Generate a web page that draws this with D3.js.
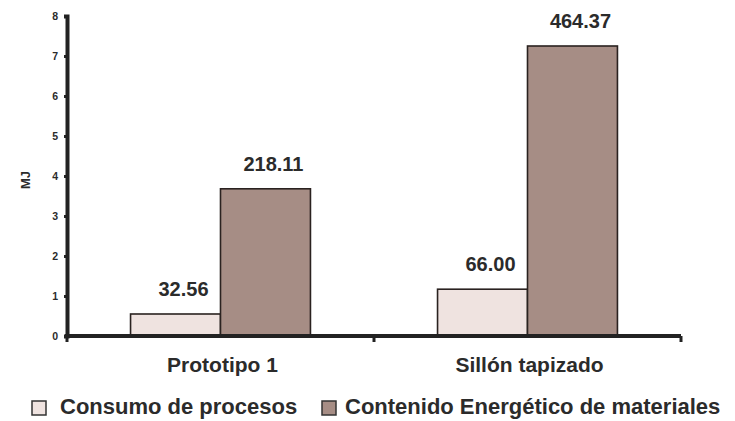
<!DOCTYPE html>
<html>
<head>
<meta charset="utf-8">
<script src="https://cdn.jsdelivr.net/npm/d3@7"></script>
<style>
  body { margin: 0; background: #fff; }
  text { font-family: "Liberation Sans", Arial, sans-serif; font-weight: bold; fill: #2b2b2b; }
</style>
</head>
<body>
<div id="chart"></div>
<script>
const categories = ["Prototipo 1", "Sillón tapizado"];
const seriesNames = ["Consumo de procesos", "Contenido Energético de materiales"];
const consumo = [0.55, 1.17];
const contenido = [3.68, 7.25];
const consumoLabels = ["32.56", "66.00"];
const contenidoLabels = ["218.11", "464.37"];
const yTicks = [0, 1, 2, 3, 4, 5, 6, 7, 8];
const colors = ["#efe3e0", "#a68d85"];

const W = 735, H = 421;
const svg = d3.select('#chart').append('svg').attr('width', W).attr('height', H);

const x0 = d3.scaleBand().domain(categories).range([67, 681])
    .paddingInner(0.414).paddingOuter(0.207);
const x1 = d3.scaleBand().domain(seriesNames).range([0, x0.bandwidth()]);
const y = d3.scaleLinear().domain([0, 8]).range([336, 16]);

const rows = categories.map((c, i) => ({
    cat: c,
    vals: [
        {s: seriesNames[0], v: consumo[i], label: consumoLabels[i], color: colors[0]},
        {s: seriesNames[1], v: contenido[i], label: contenidoLabels[i], color: colors[1]}
    ]
}));

// bars
const groups = svg.selectAll('.grp').data(rows).enter().append('g')
    .attr('class', 'grp')
    .attr('transform', d => `translate(${x0(d.cat)},0)`);

groups.selectAll('rect').data(d => d.vals).enter().append('rect')
    .attr('x', d => x1(d.s))
    .attr('y', d => y(d.v))
    .attr('width', x1.bandwidth())
    .attr('height', d => y(0) - y(d.v))
    .attr('fill', d => d.color)
    .attr('stroke', '#2a2220')
    .attr('stroke-width', 1.6);

groups.selectAll('.val').data(d => d.vals).enter().append('text')
    .attr('class', 'val')
    .attr('x', d => x1(d.s) + x1.bandwidth() / 2 + 8)
    .attr('y', d => y(d.v) - 18)
    .attr('text-anchor', 'middle')
    .style('font-size', '20px')
    .text(d => d.label);

// y axis
const yAxis = svg.append('g').attr('transform', 'translate(67,0)')
    .call(d3.axisLeft(y).tickValues(yTicks).tickSize(3).tickPadding(6));
yAxis.select('.domain').attr('stroke', '#222').attr('stroke-width', 4);
yAxis.selectAll('.tick line').attr('stroke', '#222').attr('stroke-width', 3);
yAxis.selectAll('.tick text').style('font-size', '10.5px').attr('fill', '#333');

svg.append('text')
    .attr('transform', `translate(30,${y(4) + 4}) rotate(-90)`)
    .attr('text-anchor', 'middle')
    .style('font-size', '13px')
    .attr('fill', '#444')
    .text('MJ');

// x axis baseline
const [xStart, xEnd] = x0.range();
svg.append('line')
    .attr('x1', xStart - 2).attr('x2', xEnd)
    .attr('y1', y(0)).attr('y2', y(0))
    .attr('stroke', '#222').attr('stroke-width', 4);

const bounds = [xStart, xStart + x0.step(), xEnd];
svg.selectAll('.xtick').data(bounds).enter().append('line')
    .attr('x1', d => d).attr('x2', d => d)
    .attr('y1', y(0)).attr('y2', y(0) + 6)
    .attr('stroke', '#222').attr('stroke-width', 3);

svg.selectAll('.cat').data(categories).enter().append('text')
    .attr('class', 'cat')
    .attr('x', d => x0(d) + x0.bandwidth() / 2 + 2)
    .attr('y', 372)
    .attr('text-anchor', 'middle')
    .style('font-size', '21px')
    .text(d => d);

// legend
const legendX = [32, 322];
const legend = svg.selectAll('.leg').data(seriesNames).enter().append('g')
    .attr('class', 'leg')
    .attr('transform', (d, i) => `translate(${legendX[i]},401)`);
legend.append('rect')
    .attr('width', 14).attr('height', 14)
    .attr('fill', (d, i) => colors[i])
    .attr('stroke', '#333').attr('stroke-width', 1.5);
legend.append('text')
    .attr('x', (d, i) => i === 0 ? 28 : 23)
    .attr('y', 13)
    .style('font-size', '22px')
    .text(d => d);
</script>
</body>
</html>
